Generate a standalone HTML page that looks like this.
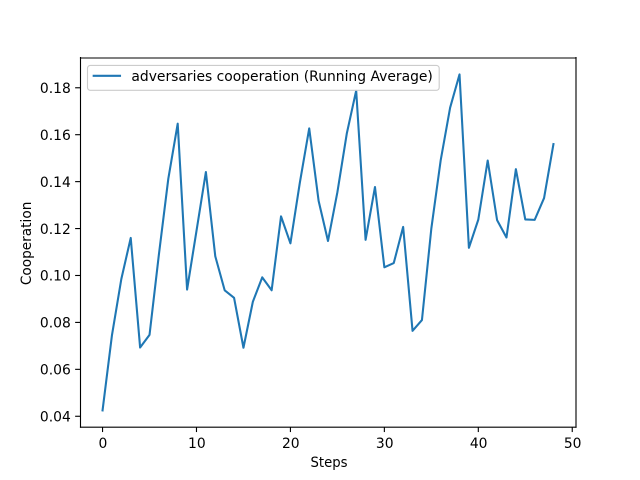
<!DOCTYPE html>
<html lang="en">
<head>
<meta charset="utf-8">
<title>Adversaries cooperation</title>
<style>
html,body{margin:0;padding:0;background:#fff;width:640px;height:480px;overflow:hidden}
svg{display:block;position:absolute;left:0;top:0}
text{font-family:"DejaVu Sans","Liberation Sans",sans-serif;font-size:13.889px;fill:#000}
</style>
</head>
<body>
<svg id="chart" xmlns="http://www.w3.org/2000/svg" width="640" height="480" viewBox="0 0 640 480">
  <rect x="0" y="0" width="640" height="480" fill="#ffffff"/>
  <rect x="80" y="57.6" width="496" height="369.6" fill="#ffffff"/>
  <g id="ticks"></g>
  <polyline id="series" fill="none" stroke="#1f77b4" stroke-width="2.083" stroke-linejoin="round" stroke-linecap="square"/>
  <g stroke="#000" stroke-width="1.111" stroke-linecap="square">
    <line x1="80.5" y1="57.6" x2="80.5" y2="427.2"/>
    <line x1="576" y1="57.6" x2="576" y2="427.2"/>
    <line x1="80.5" y1="58" x2="576" y2="58"/>
    <line x1="80.5" y1="427.2" x2="576" y2="427.2"/>
  </g>
  <text x="329" y="467" text-anchor="middle" textLength="37" lengthAdjust="spacingAndGlyphs">Steps</text>
  <text transform="translate(31,243.4) rotate(-90)" text-anchor="middle" textLength="83.5" lengthAdjust="spacingAndGlyphs">Cooperation</text>
  <g>
    <rect x="87.5" y="65.4" width="351.7" height="24.9" rx="2.8" ry="2.8" fill="#ffffff" fill-opacity="0.8" stroke="#cccccc" stroke-width="1.111"/>
    <line x1="93.7" y1="75.8" x2="120" y2="75.8" stroke="#1f77b4" stroke-width="2.083" stroke-linecap="square"/>
    <text x="131.4" y="81">adversaries cooperation (Running Average)</text>
  </g>
</svg>
<script>
const steps = [0,1,2,3,4,5,6,7,8,9,10,11,12,13,14,15,16,17,18,19,20,21,22,23,24,25,26,27,28,29,30,31,32,33,34,35,36,37,38,39,40,41,42,43,44,45,46,47,48];
const cooperation = [0.0425,0.0745,0.0985,0.1160,0.0693,0.0747,0.1090,0.1412,0.1647,0.0940,0.1190,0.1441,0.1082,0.0937,0.0905,0.0692,0.0888,0.0992,0.0937,0.1252,0.1137,0.1395,0.1627,0.1318,0.1147,0.1355,0.1605,0.1788,0.1152,0.1377,0.1035,0.1053,0.1207,0.0764,0.0810,0.1200,0.1492,0.1715,0.1857,0.1118,0.1238,0.1490,0.1236,0.1162,0.1453,0.1239,0.1237,0.1330,0.1560];
const xTickValues = [0,10,20,30,40,50];
const yTickValues = [0.04,0.06,0.08,0.10,0.12,0.14,0.16,0.18];
const yTickLabels = ['0.04','0.06','0.08','0.10','0.12','0.14','0.16','0.18'];

const SVG_NS = 'http://www.w3.org/2000/svg';
const plot = {left:80, right:576, top:57.6, bottom:427.2};

const xMin = Math.min(...steps), xMax = Math.max(...steps);
const yMin = Math.min(...cooperation), yMax = Math.max(...cooperation);
const xPad = (xMax - xMin) * 0.05, yPad = (yMax - yMin) * 0.05;

function xScale(v){
  return plot.left + (v - (xMin - xPad)) / ((xMax + xPad) - (xMin - xPad)) * (plot.right - plot.left);
}
function yScale(v){
  return plot.bottom - (v - (yMin - yPad)) / ((yMax + yPad) - (yMin - yPad)) * (plot.bottom - plot.top);
}

document.getElementById('series').setAttribute('points',
  steps.map((s, i) => xScale(s).toFixed(2) + ',' + yScale(cooperation[i]).toFixed(2)).join(' '));

const ticks = document.getElementById('ticks');

xTickValues.forEach(function(v){
  const x = xScale(v);
  const tick = document.createElementNS(SVG_NS, 'line');
  
  
  tick.setAttribute('x1', x); tick.setAttribute('x2', x);
  tick.setAttribute('y1', plot.bottom); tick.setAttribute('y2', plot.bottom + 4.86);
  tick.setAttribute('stroke', '#000'); tick.setAttribute('stroke-width', '1.111');
  ticks.appendChild(tick);
  const label = document.createElementNS(SVG_NS, 'text');
  
  
  label.setAttribute('x', x + 0.4); label.setAttribute('y', 447.8);
  label.setAttribute('text-anchor', 'middle');
  label.textContent = String(v);
  ticks.appendChild(label);
});

yTickValues.forEach(function(v, i){
  const y = yScale(v);
  const tick = document.createElementNS(SVG_NS, 'line');
  
  
  tick.setAttribute('x1', plot.left - 4.86); tick.setAttribute('x2', plot.left);
  tick.setAttribute('y1', y); tick.setAttribute('y2', y);
  tick.setAttribute('stroke', '#000'); tick.setAttribute('stroke-width', '1.111');
  ticks.appendChild(tick);
  const label = document.createElementNS(SVG_NS, 'text');
  
  
  label.setAttribute('x', 70.8); label.setAttribute('y', y + 5.2);
  label.setAttribute('text-anchor', 'end');
  label.textContent = yTickLabels[i];
  ticks.appendChild(label);
});
</script>
</body>
</html>
